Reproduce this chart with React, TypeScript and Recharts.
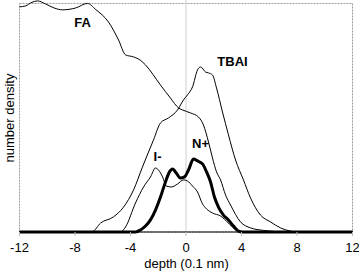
import React from 'react';
import { LineChart, Line, XAxis, YAxis, ReferenceLine, ReferenceArea, ReferenceDot, Label } from 'recharts';

const X_TICKS = [-12, -8, -4, 0, 4, 8, 12];

const FA_DEPTH = [-12, -11.57, -11.1, -10.7, -10.13, -9.5, -8.9, -7.96, -7.1, -6.5, -5.59, -4.86, -4.36, -3.78, -3.3, -2.92, -1.84, -1.12, -0.54, -0.25, 0.32, 0.9, 1.26, 1.62, 1.91, 2.2, 2.49, 2.85, 3.21, 3.93, 4.65, 5.59, 6.45, 7, 12];
const FA_DENSITY = [98.5, 98.9, 100.5, 101.1, 99.8, 98.0, 97.2, 98.0, 100, 97.3, 91.9, 84.0, 77.5, 76.6, 75.2, 73.1, 64.3, 58.6, 54.3, 53.4, 52.1, 50.3, 46.8, 39.4, 32.4, 26.3, 22.8, 16.2, 11.8, 4.4, 1.8, 0.7, 0.2, 0, 0];

const TBAI_DEPTH = [-12, -7.24, -6.74, -6.16, -5.23, -4.5, -3.78, -3.14, -2.7, -2.34, -1.84, -1.26, -0.61, -0.18, 0.11, 0.47, 0.83, 1.05, 1.41, 1.62, 1.91, 2.2, 2.63, 3.06, 3.57, 4.14, 4.65, 5.37, 6.09, 6.81, 7.53, 8.1, 12];
const TBAI_DENSITY = [0, 0, 0.2, 3.9, 6.6, 10.9, 18.4, 28.4, 35.0, 40.3, 47.7, 49.9, 53.4, 57.8, 60.0, 63.5, 70.9, 72.2, 70.0, 69.6, 68.7, 63.0, 52.5, 42.5, 31.5, 22.8, 14.9, 7.4, 4.4, 1.8, 0.4, 0, 0];

const I_DEPTH = [-12, -4.72, -4.36, -3.64, -3.06, -2.56, -2.2, -1.98, -1.69, -1.41, -1.05, -0.61, -0.18, 0.11, 0.47, 0.83, 1.19, 1.48, 1.91, 2.49, 3.06, 3.5, 3.93, 4.3, 12];
const I_DENSITY = [0, 0, 2.2, 12.7, 19.7, 24.1, 28.0, 27.1, 24.1, 20.1, 19.7, 21.0, 22.8, 22.3, 20.1, 17.5, 12.3, 10.1, 8.3, 7.0, 3.9, 1.3, 0.2, 0, 0];

const N_DEPTH = [-12, -3.64, -3.28, -2.92, -2.56, -2.2, -1.84, -1.48, -1.19, -0.97, -0.76, -0.4, -0.11, 0.18, 0.54, 0.83, 1.19, 1.48, 1.77, 2.05, 2.34, 2.7, 3.06, 3.42, 3.78, 4.07, 12];
const N_DENSITY = [0, 0, 0.9, 2.6, 5.3, 9.6, 15.3, 21.9, 26.3, 27.6, 26.3, 23.6, 24.1, 27.1, 31.9, 31.1, 29.8, 26.3, 21.9, 15.3, 10.9, 7.4, 5.3, 2.6, 0.4, 0, 0];

const SERIES_LABELS = ['FA', 'TBAI', 'I-', 'N+'];
const LABEL_DEPTH = [-7.46, 3.35, -2.05, 1.05];
const LABEL_DENSITY = [91.5, 74.8, 33.3, 38.9];

const toPoints = (xs: number[], ys: number[]) => xs.map((x, i) => ({ x, y: ys[i] }));

const faData = toPoints(FA_DEPTH, FA_DENSITY);
const tbaiData = toPoints(TBAI_DEPTH, TBAI_DENSITY);
const iData = toPoints(I_DEPTH, I_DENSITY);
const nData = toPoints(N_DEPTH, N_DENSITY);

const FONT = '"Liberation Sans", Arial, Helvetica, sans-serif';
const BORDER = '#9a9a9a';

export default function App() {
  return (
    <div style={{ position: 'absolute', left: 0, top: 0, width: 359, height: 272, background: '#fff' }}>
      <LineChart width={359} height={272} margin={{ top: 0, right: 6.5, bottom: 0, left: 19.5 }}>
        <XAxis
          dataKey="x"
          type="number"
          domain={[-12, 12]}
          ticks={X_TICKS}
          height={40}
          stroke="#000"
          tickSize={4}
          tickMargin={7}
          tick={{ fill: '#000', fontSize: 13, fontFamily: FONT }}
          tickLine={{ stroke: '#bbb' }}
        >
          <Label
            content={() => (
              <text x={186.5} y={268} textAnchor="middle" fontSize={13} fontFamily={FONT} fill="#000">
                depth (0.1 nm)
              </text>
            )}
          />
        </XAxis>
        <YAxis type="number" domain={[0, 101.5]} hide />
        <ReferenceArea
          x1={-12}
          x2={12}
          y1={0}
          y2={100}
          fill="none"
          fillOpacity={0}
          stroke={BORDER}
          strokeDasharray="2 1"
          strokeOpacity={1}
          ifOverflow="visible"
        >
          <Label
            content={() => (
              <text x={13.5} y={118} transform="rotate(-90, 13.5, 118)" textAnchor="middle" fontSize={13} fontFamily={FONT} fill="#000">
                number density
              </text>
            )}
          />
        </ReferenceArea>
        <ReferenceLine x={0} stroke="#cfcfcf" />
        <Line data={faData} dataKey="y" type="monotone" dot={false} stroke="#000" strokeWidth={1} isAnimationActive={false} />
        <Line data={tbaiData} dataKey="y" type="monotone" dot={false} stroke="#000" strokeWidth={1} isAnimationActive={false} />
        <Line data={iData} dataKey="y" type="monotone" dot={false} stroke="#000" strokeWidth={1} isAnimationActive={false} />
        <Line data={nData} dataKey="y" type="monotone" dot={false} stroke="#000" strokeWidth={3} isAnimationActive={false} />
        {SERIES_LABELS.map((name, i) => (
          <ReferenceDot key={name} x={LABEL_DEPTH[i]} y={LABEL_DENSITY[i]} r={0} fill="none" stroke="none">
            <Label value={name} position="center" fontSize={13} fontWeight="bold" fontFamily={FONT} fill="#000" />
          </ReferenceDot>
        ))}
      </LineChart>
    </div>
  );
}
